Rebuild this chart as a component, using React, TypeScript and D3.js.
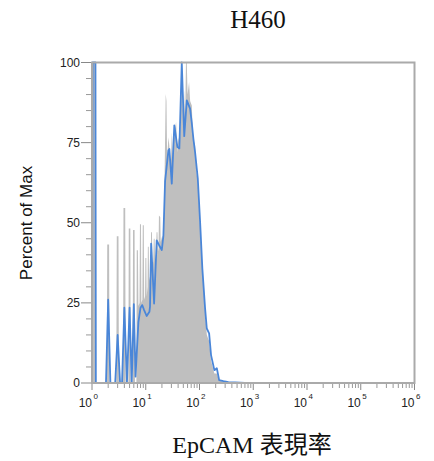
import React, { useEffect, useRef } from 'react';
import * as d3 from 'd3';

// histogram traces, [intensity, percent of max]
const grayHist: [number, number][] = [
  [1, 100], [1.17, 100], [1.19, 0],
  [1.88, 0], [1.92, 43.2], [2.08, 43.2], [2.12, 0],
  [2.83, 0], [2.89, 45.8], [3.11, 45.8], [3.17, 0],
  [3.78, 0], [3.85, 54.6], [4.15, 54.6], [4.22, 0],
  [4.75, 0], [4.83, 48.2], [5.17, 48.2], [5.25, 0],
  [5.7, 0], [5.8, 47.7], [6.2, 47.7], [6.3, 0],
  [6.7, 0], [6.8, 41.4], [7.15, 41.4], [7.3, 24],
  [7.65, 25], [7.8, 49.5], [8.15, 49.5], [8.3, 25],
  [8.65, 26], [8.8, 49.2], [9.2, 49.2], [9.35, 26],
  [9.7, 27], [9.85, 39], [10.25, 39], [10.4, 27],
  [10.8, 30], [10.95, 42.5], [11.35, 42.5], [11.55, 32],
  [12.3, 34], [12.55, 47], [13.05, 47], [13.3, 36],
  [13.8, 38], [14.1, 45], [14.6, 45], [14.9, 38],
  [15.5, 40], [15.9, 47], [16.5, 47], [16.9, 41],
  [17.3, 42], [17.6, 52.3], [18.1, 52], [18.6, 51.8], [19, 44],
  [19.6, 45], [20.3, 46], [21, 44], [22, 55],
  [23.5, 90.2], [24.3, 88], [25, 70], [26.4, 76.7], [27.5, 74], [29, 65], [30.5, 78.3],
  [32, 70], [34, 78], [36.7, 81.4], [38.8, 72], [40.5, 76.7], [43, 74],
  [46.8, 95], [49, 85], [51.7, 91.3], [54, 82], [56, 100], [58, 100], [60, 90],
  [64, 93.9], [67, 88], [71.9, 86.6], [75, 78], [77, 76], [83, 74],
  [88, 66], [93, 62], [100, 52], [113, 36], [127, 22], [137, 15],
  [151, 13], [164, 7], [189, 3], [210, 3], [232, 0.8], [279, 0.5],
  [345, 0.2], [460, 0], [1e6, 0],
];

const blueHist: [number, number][] = [
  [1, 0], [1.03, 100], [1.16, 100], [1.18, 0],
  [1.82, 0], [2, 26], [2.2, 0],
  [2.7, 0], [3, 15], [3.33, 0],
  [3.62, 0], [4, 23.5], [4.47, 0],
  [5, 23.5], [5.48, 0],
  [6, 24.6], [6.45, 2],
  [7.3, 19], [8, 23.5], [8.6, 24.3], [9.2, 23], [10.4, 20.9], [11.7, 22.2],
  [12, 23.8], [12.6, 43.5], [14.3, 24.8], [16, 44.5], [17.7, 43],
  [19.9, 41.5], [21.3, 46], [22.9, 63], [26.4, 72.6], [27.5, 73],
  [30.5, 62.2], [34, 80.4], [38.8, 73.6], [42.2, 73.2], [46.8, 100],
  [52, 77], [58, 88.2], [66.8, 85.6], [72, 81], [77, 76.2], [82.8, 72],
  [92.9, 63.8], [102.6, 50.3], [113, 35.7], [127, 23.3], [136.7, 17],
  [151, 15.5], [164, 8.7], [189, 4], [210, 4.6], [232, 0.9], [279, 0.6],
  [345, 0.3], [460, 0.2], [700, 0], [1e6, 0],
];

const yTicks = [0, 25, 50, 75, 100];
const yMinor = d3.range(0, 101, 5).filter((v) => v % 25 !== 0);
const xDecades = [0, 1, 2, 3, 4, 5, 6];

const title = 'H460';
const xTitle = 'EpCAM 表現率';
const yTitle = 'Percent of Max';

const App = () => {
  const ref = useRef<SVGSVGElement>(null);

  useEffect(() => {
    const svg = d3.select(ref.current);
    svg.selectAll('*').remove();
    const width = 434;
    const height = 461;
    const left = 92;
    const right = 414.5;
    const top = 62.5;
    const bottom = 383;
    const axisColor = '#aaaaaa';
    const tickFont = '"Liberation Sans Narrow", "Liberation Sans", Arial, sans-serif';

    svg.attr('width', width).attr('height', height);

    const x = d3.scaleLog().domain([1, 1e6]).range([left, right]);
    const y = d3.scaleLinear().domain([0, 100]).range([bottom, top]);

    svg.append('defs')
      .append('clipPath')
      .attr('id', 'plot-clip')
      .append('rect')
      .attr('x', left)
      .attr('y', top - 2)
      .attr('width', right - left)
      .attr('height', bottom - top + 2);

    const area = d3.area<[number, number]>()
      .x((d) => x(d[0]))
      .y0(y(0))
      .y1((d) => y(d[1]));

    const line = d3.line<[number, number]>()
      .x((d) => x(d[0]))
      .y((d) => y(d[1]));

    const plot = svg.append('g').attr('clip-path', 'url(#plot-clip)');

    plot.append('path')
      .attr('d', area(grayHist))
      .attr('fill', '#bfbfbf');

    plot.append('path')
      .attr('d', line(blueHist))
      .attr('fill', 'none')
      .attr('stroke', '#4a86d8')
      .attr('stroke-width', 1.8)
      .attr('stroke-linejoin', 'round');

    // frame
    svg.append('rect')
      .attr('x', left)
      .attr('y', top)
      .attr('width', right - left)
      .attr('height', bottom - top)
      .attr('fill', 'none')
      .attr('stroke', axisColor)
      .attr('stroke-width', 2);

    // y ticks
    svg.selectAll('.ymaj')
      .data(yTicks)
      .enter()
      .append('line')
      .attr('x1', left - 11)
      .attr('x2', left - 1)
      .attr('y1', (d) => y(d))
      .attr('y2', (d) => y(d))
      .attr('stroke', '#888')
      .attr('stroke-width', 1);

    svg.selectAll('.ymin')
      .data(yMinor)
      .enter()
      .append('line')
      .attr('x1', left - 6)
      .attr('x2', left - 1)
      .attr('y1', (d) => y(d))
      .attr('y2', (d) => y(d))
      .attr('stroke', '#999')
      .attr('stroke-width', 1);

    svg.selectAll('.ylab')
      .data(yTicks)
      .enter()
      .append('text')
      .attr('x', left - 12)
      .attr('y', (d) => y(d))
      .attr('dy', '0.35em')
      .attr('text-anchor', 'end')
      .attr('font-family', tickFont)
      .attr('font-size', 12)
      .attr('fill', '#222')
      .text((d) => d);

    // x ticks: majors at decades, minors at 2..9
    const xMinor: number[] = [];
    xDecades.slice(0, -1).forEach((e) => {
      for (let k = 2; k <= 9; k++) xMinor.push(k * Math.pow(10, e));
    });

    svg.selectAll('.xmaj')
      .data(xDecades)
      .enter()
      .append('line')
      .attr('x1', (d) => x(Math.pow(10, d)))
      .attr('x2', (d) => x(Math.pow(10, d)))
      .attr('y1', bottom + 1)
      .attr('y2', bottom + 7)
      .attr('stroke', '#888');

    svg.selectAll('.xmin')
      .data(xMinor)
      .enter()
      .append('line')
      .attr('x1', (d) => x(d))
      .attr('x2', (d) => x(d))
      .attr('y1', bottom + 1)
      .attr('y2', bottom + 5)
      .attr('stroke', '#999');

    const xl = svg.selectAll('.xlab')
      .data(xDecades)
      .enter()
      .append('g')
      .attr('transform', (d) => `translate(${x(Math.pow(10, d))},${bottom + 24})`);

    xl.append('text')
      .attr('text-anchor', 'end')
      .attr('font-family', tickFont)
      .attr('font-size', 12)
      .attr('fill', '#222')
      .text('10');

    xl.append('text')
      .attr('x', 1.5)
      .attr('y', -8)
      .attr('font-family', tickFont)
      .attr('font-size', 8)
      .attr('fill', '#222')
      .text((d) => d);

    // titles
    svg.append('text')
      .attr('x', 258)
      .attr('y', 28)
      .attr('text-anchor', 'middle')
      .attr('font-family', '"Liberation Serif", "Times New Roman", serif')
      .attr('font-size', 25)
      .attr('fill', '#111')
      .text(title);

    svg.append('text')
      .attr('x', 252)
      .attr('y', 453)
      .attr('text-anchor', 'middle')
      .attr('font-family', '"Liberation Serif", "Noto Sans CJK TC", serif')
      .attr('font-size', 24)
      .attr('fill', '#111')
      .text(xTitle);

    svg.append('text')
      .attr('transform', 'translate(32,223) rotate(-90)')
      .attr('text-anchor', 'middle')
      .attr('font-family', '"Liberation Sans", Arial, sans-serif')
      .attr('font-size', 17)
      .attr('fill', '#111')
      .text(yTitle);
  }, []);

  return (
    <svg ref={ref} style={{ position: 'absolute', left: 0, top: 0 }} />
  );
};

export default App;
